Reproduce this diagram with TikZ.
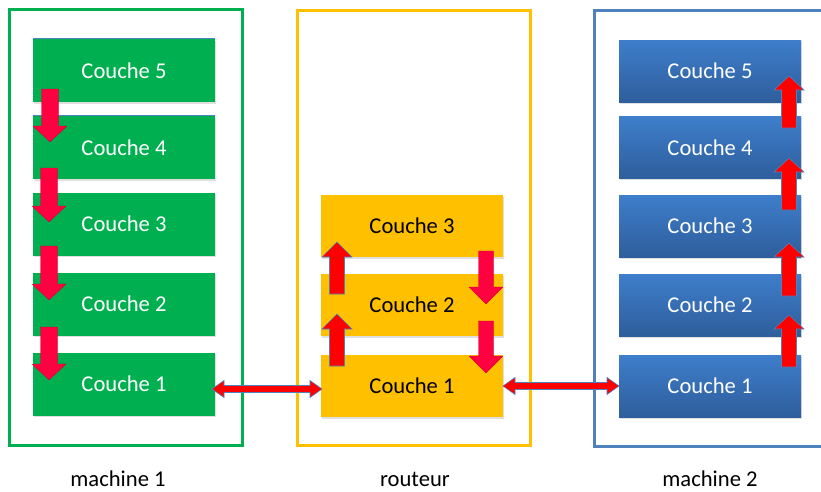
\documentclass[tikz,border=0pt]{standalone}
\usepackage{fontspec}
\setmainfont{Carlito}
\usetikzlibrary{shadows}
\definecolor{cgreen}{RGB}{0,176,80}
\definecolor{corange}{RGB}{255,192,0}
\definecolor{cblue}{RGB}{79,129,189}
\definecolor{btop}{RGB}{62,126,203}
\definecolor{bbot}{RGB}{46,94,156}
\definecolor{crim}{RGB}{255,0,64}
\definecolor{ared}{RGB}{255,0,0}
\newcommand{\ashaft}{8}
\newcommand{\ahead}{16}
\newcommand{\alen}{16}
\newcommand{\blockarrow}[4][]{%
  \pgfmathsetmacro\adir{sign(#4-#3)}%
  \pgfmathsetmacro\ybase{#4-\adir*\alen}%
  \draw[#1] (#2-\ashaft,#3) -- (#2-\ashaft,\ybase) -- (#2-\ahead,\ybase) -- (#2,#4)
     -- (#2+\ahead,\ybase) -- (#2+\ashaft,\ybase) -- (#2+\ashaft,#3) -- cycle;}
\newcommand{\harrow}[3]{%
  \draw[uparrow] (#1,#3) -- (#1+12,#3-8.5) -- (#1+12,#3-3.5) -- (#2-12,#3-3.5) -- (#2-12,#3-8.5)
     -- (#2,#3) -- (#2-12,#3+8.5) -- (#2-12,#3+3.5) -- (#1+12,#3+3.5) -- (#1+12,#3+8.5) -- cycle;}
\tikzset{
  container/.style={line width=3pt},
  layer/.style={minimum width=182pt, inner sep=0pt, font=\fontsize{22.6}{27}\selectfont,
     text depth=0pt, drop shadow={opacity=0.25, shadow xshift=1pt, shadow yshift=-1.5pt}},
  glayer/.style={layer, fill=cgreen, text=white, minimum height=63pt},
  olayer/.style={layer, fill=corange, text=black, minimum height=62pt},
  blayer/.style={layer, top color=btop, bottom color=bbot, text=white, minimum height=62pt},
  downarrow/.style={fill=crim, draw=crim!80!black, line width=0.3pt},
  uparrow/.style={fill=ared, draw=cblue, line width=0.6pt},
  caption/.style={font=\fontsize{22.6}{27}\selectfont, text=black, inner sep=0pt, anchor=base}
}
\begin{document}
\begin{tikzpicture}[x=1pt,y=-1pt]
\useasboundingbox (0,0) rectangle (821,491);
\clip (0,0) rectangle (821,491);
\fill[white] (0,0) rectangle (821,491);
% containers
\draw[container, draw=cgreen] (9,9) rectangle (242,445);
\draw[container, draw=corange] (297,10) rectangle (530,445);
\draw[container, draw=cblue] (594,10) rectangle (830,446);
% machine 1
\node[glayer] (g5) at (124,70.5) {Couche 5};
\node[glayer] (g4) at (124,147.5) {Couche 4};
\node[glayer] (g3) at (124,224) {Couche 3};
\node[glayer] (g2) at (124,304) {Couche 2};
\node[glayer] (g1) at (124,384) {Couche 1};
\draw[cblue, line width=1.2pt] (g5.north west) -- (g5.north east);
\draw[cblue, line width=1.2pt] (g4.north west) -- (g4.north east);
% routeur
\node[olayer] (o3) at (412,226) {Couche 3};
\node[olayer] (o2) at (412,305) {Couche 2};
\node[olayer] (o1) at (412,386) {Couche 1};
% machine 2
\node[blayer] (b5) at (710,71) {Couche 5};
\node[blayer] (b4) at (710,147.5) {Couche 4};
\node[blayer] (b3) at (710,226) {Couche 3};
\node[blayer] (b2) at (710,305) {Couche 2};
\node[blayer] (b1) at (710,386) {Couche 1};
% captions
\node[caption] (m1) at (118,486.5) {machine 1};
\node[caption] (rt) at (415,486.5) {routeur};
\node[caption] (m2) at (710,486.5) {machine 2};
% green down arrows
\renewcommand{\ashaft}{8.5}\renewcommand{\ahead}{17}\renewcommand{\alen}{16}
\blockarrow[downarrow]{50}{89}{142}
\blockarrow[downarrow]{49}{168}{222}
\blockarrow[downarrow]{49}{246}{300}
\blockarrow[downarrow]{49}{327}{380}
% routeur arrows
\renewcommand{\ashaft}{7.5}\renewcommand{\ahead}{15}\renewcommand{\alen}{15}
\blockarrow[uparrow]{337}{294}{242}
\blockarrow[uparrow]{337}{366}{314}
\renewcommand{\ahead}{17}\renewcommand{\alen}{17}
\blockarrow[downarrow]{486}{251}{304}
\blockarrow[downarrow]{486}{321}{373}
% machine 2 up arrows
\renewcommand{\ashaft}{7.5}\renewcommand{\ahead}{15}\renewcommand{\alen}{14}
\blockarrow[uparrow]{789}{128}{76}
\blockarrow[uparrow]{789}{210}{158}
\blockarrow[uparrow]{789}{296}{243}
\blockarrow[uparrow]{789}{367}{315}
% horizontal double arrows
\harrow{212}{322}{389}
\harrow{503}{619}{386}
\end{tikzpicture}
\end{document}
